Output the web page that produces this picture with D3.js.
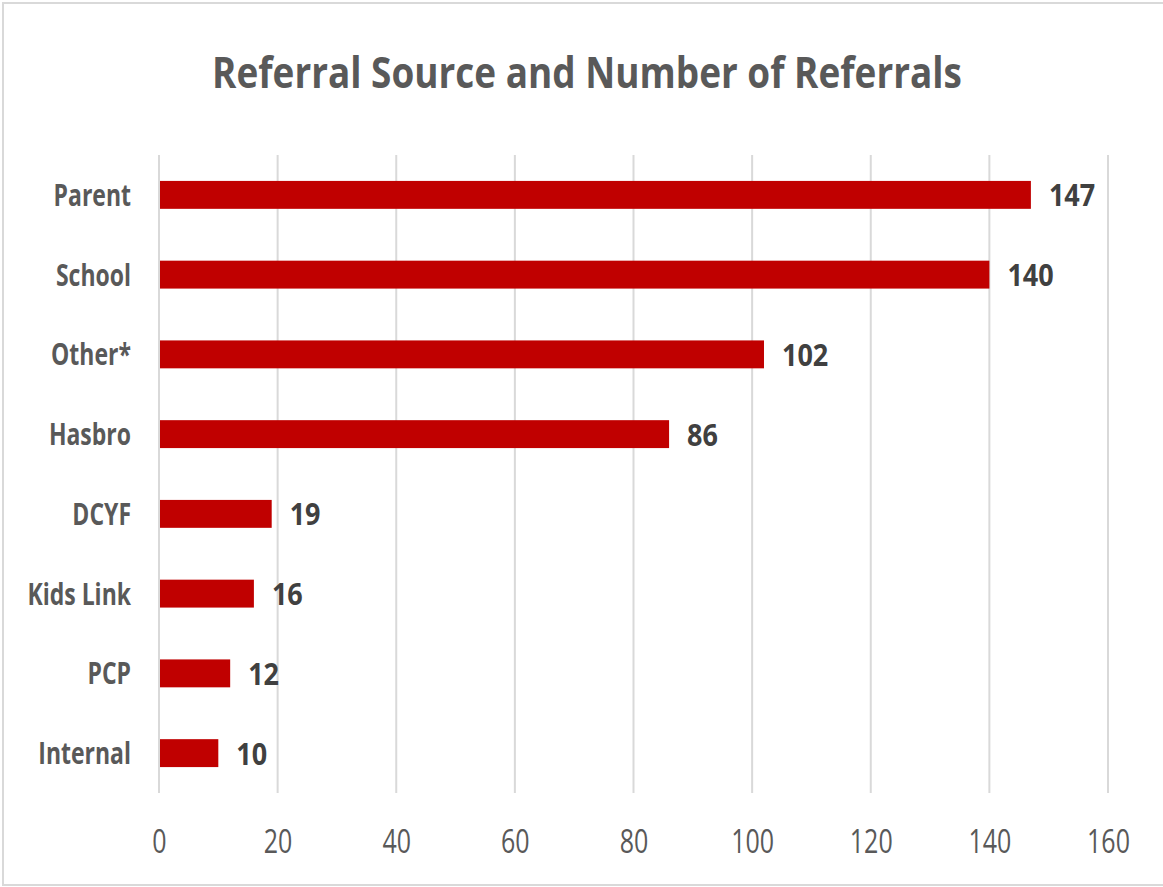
<!DOCTYPE html>
<html>
<head>
<meta charset="utf-8">
<script src="https://cdn.jsdelivr.net/npm/d3@7"></script>
<style>
  body { margin: 0; background: #fff; }
  svg { display: block; }
  text { font-family: "Open Sans", sans-serif; }
</style>
</head>
<body>
<div id="chart"></div>
<script>
// referral sources, top to bottom
const sources = ["Parent", "School", "Other*", "Hasbro", "DCYF", "Kids Link", "PCP", "Internal"];
const referrals = [147, 140, 102, 86, 19, 16, 12, 10];
const xTicks = [0, 20, 40, 60, 80, 100, 120, 140, 160];

(function () {
  const W = 1163, H = 887;
  const margin = { top: 155, right: 55, bottom: 94, left: 159 };
  const width = W - margin.left - margin.right;
  const height = H - margin.top - margin.bottom;

  // the source picture is a vertically stretched screenshot, so text gets a y-scale
  function stretch(sel, sx, sy) {
    sel.each(function () {
      const t = d3.select(this);
      const x = +t.attr("x") || 0;
      const y = +t.attr("y") || 0;
      t.attr("transform", `translate(${x},${y}) scale(${sx},${sy})`)
        .attr("x", 0)
        .attr("y", 0);
    });
  }

  const svg = d3.select("#chart").append("svg")
    .attr("width", W)
    .attr("height", H);

  // chart frame
  svg.append("rect")
    .attr("x", 3).attr("y", 3)
    .attr("width", W + 4).attr("height", 882)
    .attr("fill", "#fff")
    .attr("stroke", "#d9d9d9")
    .attr("stroke-width", 2);

  const title = svg.append("text")
    .attr("x", 587)
    .attr("y", 88)
    .attr("text-anchor", "middle")
    .attr("fill", "#595959")
    .attr("font-weight", "bold")
    .attr("font-size", "44px")
    .text("Referral Source and Number of Referrals");
  // fit title width, then stretch to the reference cap height
  const tw = title.node().getComputedTextLength();
  const titleSize = 44 * 750 / tw;
  title.attr("font-size", titleSize + "px");
  stretch(title, 1, 31 / (0.714 * titleSize));

  const g = svg.append("g")
    .attr("transform", `translate(${margin.left},${margin.top})`);

  const x = d3.scaleLinear().domain([0, 160]).range([0, width]);
  const y = d3.scaleBand().domain(sources).range([0, height]).paddingInner(0.65).paddingOuter(0.325);

  // gridlines
  g.append("g").selectAll("line")
    .data(xTicks)
    .join("line")
    .attr("x1", (d) => x(d)).attr("x2", (d) => x(d))
    .attr("y1", 0).attr("y2", height)
    .attr("stroke", "#d9d9d9")
    .attr("stroke-width", 2);

  // x tick labels
  const xAxis = g.append("g")
    .attr("transform", `translate(0,${height})`)
    .call(d3.axisBottom(x).tickValues(xTicks).tickSize(0).tickPadding(60));
  xAxis.attr("font-family", null).select(".domain").remove();
  xAxis.selectAll("text")
    .attr("fill", "#595959")
    .attr("font-size", "25px")
    .attr("dy", 0);
  stretch(xAxis.selectAll("text"), 1, 1.3);

  // y category labels
  const yAxis = g.append("g")
    .call(d3.axisLeft(y).tickSize(0).tickPadding(28));
  yAxis.attr("font-family", null).select(".domain").remove();
  yAxis.selectAll("text")
    .attr("fill", "#595959")
    .attr("font-size", "23px")
    .attr("font-weight", "bold")
    .attr("dy", 0)
    .attr("y", 11);
  stretch(yAxis.selectAll("text"), 1, 1.33);

  const data = sources.map((s, i) => ({ source: s, value: referrals[i] }));

  g.append("g").selectAll("rect")
    .data(data)
    .join("rect")
    .attr("x", x(0) + 1)
    .attr("y", (d) => y(d.source))
    .attr("width", (d) => x(d.value) - x(0) - 1)
    .attr("height", y.bandwidth())
    .attr("fill", "#c00000");

  const values = g.append("g").selectAll("text")
    .data(data)
    .join("text")
    .attr("x", (d) => x(d.value) + 18)
    .attr("y", (d) => y(d.source) + y.bandwidth() / 2 + 11.5)
    .attr("fill", "#404040")
    .attr("font-size", "27px")
    .attr("font-weight", "bold")
    .text((d) => d.value);
  stretch(values, 1, 1.14);
})();
</script>
</body>
</html>
